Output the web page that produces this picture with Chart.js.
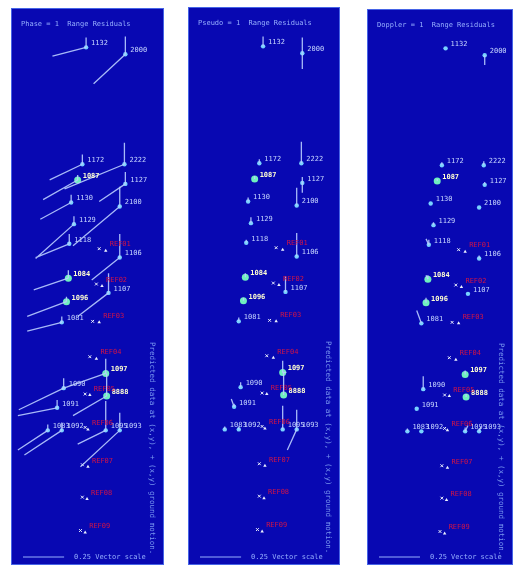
<!DOCTYPE html>
<html>
<head>
<meta charset="utf-8">
<script src="https://cdn.jsdelivr.net/npm/chart.js@4.4.1/dist/chart.umd.min.js"></script>
<style>
    body { margin: 0; background: #fff; width: 514px; height: 567px; position: relative; overflow: hidden; }
    canvas { position: absolute; }
</style>
</head>
<body>
<canvas id="panel1" width="153" height="557" style="left:11px;top:8px"></canvas>
<canvas id="panel2" width="152" height="558" style="left:188px;top:7px"></canvas>
<canvas id="panel3" width="146" height="556" style="left:367px;top:9px"></canvas>
<script>
// Panel titles
const panelTitles = ['Phase = 1  Range Residuals', 'Pseudo = 1  Range Residuals', 'Doppler = 1  Range Residuals'];
const noteText = 'Predicted data at (x,y), + (x,y) ground motion.';
const scaleText = '0.25 Vector scale';
const scaleLength = 44;

// Stations (map units, north measured downwards from the top edge)
const stationIds = ['1132', '2000', '1172', '2222', '1087', '1127', '1130', '2100', '1129', '1118', '1106', '1084',
    '1107', '1096', '1081', '1097', '1090', '8888', '1091', '1083', '1092', '1095', '1093'];
const stationEast = [75, 117, 71, 116, 66, 117, 59, 111, 62, 57, 111, 56, 99, 54, 49, 96, 51, 97, 44, 34, 49, 96, 111];
const stationNorth = [35, 42, 154, 154, 170, 174, 193, 197, 215, 235, 249, 270, 285, 294, 315, 367, 382, 390, 402, 425, 425, 425, 425];
const brightStations = ['1087', '1084', '1096', '1097', '8888'];

// Horizontal vectors (east, north) and vertical component, one set per panel
const vecEast1 = [-36, -34, -35, -64, -37, -28, -33, -50, -41, -36, -30, -37, -33, -42, -37, -45, -48, -36, -42, -32, -40, -30, -42];
const vecNorth1 = [9, 30, 16, 25, 20, 18, 17, 40, 35, 14, 23, 12, 24, 15, 9, 15, 22, 20, 8, 20, 25, 14, 37];
const vecUp1 = [10, 18, 10, 22, 5, 12, 8, 20, 8, 10, 24, 8, 20, 5, 6, 15, 10, 23, 8, 6, 8, 30, 18];

const vecEast2 = [0, 0, 0, 0, 0, 0, 0, 0, 0, 0, 0, 0, 0, 0, 0, 4, 0, 0, -3, 0, 0, 0, -10];
const vecNorth2 = [0, 16, 0, 0, 0, 10, 0, 0, 0, 0, 0, 0, 0, 0, 0, 0, 0, 0, -8, 0, 0, 0, 21];
const vecUp2 = [10, 16, 4, 22, 3, 6, 4, 18, 6, 3, 24, 4, 16, 3, 4, 12, 5, 23, 3, 3, 3, 24, 20];

const vecEast3 = [0, 0, 0, 0, 0, 0, 0, 0, 0, -3, 0, -2, 0, 0, -5, 0, 0, 0, 0, 0, 0, 3, 2];
const vecNorth3 = [0, 10, 0, 0, 0, 0, 0, 0, 0, -6, 0, -4, 0, 0, -13, 0, 0, 0, 0, 0, 0, -6, -5];
const vecUp3 = [0, 0, 3, 4, 2, 3, 0, 0, 3, 5, 3, 4, 0, 5, 0, 4, 13, 3, 0, 3, 0, 4, 3];

// Reference sites: observed (+) and predicted (triangle) positions
const siteNames = ['REF01', 'REF02', 'REF03', 'REF04', 'REF05', 'REF06', 'REF07', 'REF08', 'REF09'];
const obsEast = [89, 86, 82, 79, 74, 74, 71, 71, 69];
const obsNorth = [240, 276, 314, 350, 388, 422, 460, 493, 527];
const predEast = [96, 92, 89, 86, 79, 77, 77, 76, 74];
const predNorth = [242, 278, 315, 352, 389, 424, 462, 495, 529];

const panelVectors = [
    [vecEast1, vecNorth1, vecUp1],
    [vecEast2, vecNorth2, vecUp2],
    [vecEast3, vecNorth3, vecUp3]
];
const panelIds = ['panel1', 'panel2', 'panel3'];
const panelXMin = [0, 0, -4];

const BG = 'rgb(8, 8, 178)';
const MONO = '"DejaVu Sans Mono", monospace';

// Line segments separated by gaps
function horizontalSegments(de, dn) {
    const pts = [];
    stationEast.forEach((x, i) => {
        if (de[i] === 0 && dn[i] === 0) return;
        const y = stationNorth[i];
        pts.push({ x: x, y: y }, { x: x + de[i], y: y + dn[i] }, { x: x, y: null });
    });
    return pts;
}

function verticalSegments(du) {
    const pts = [];
    stationEast.forEach((x, i) => {
        if (du[i] === 0) return;
        const y = stationNorth[i];
        pts.push({ x: x, y: y }, { x: x, y: y - du[i] }, { x: x, y: null });
    });
    return pts;
}

const decorations = {
    id: 'decorations',
    beforeDraw(chart) {
        const ctx = chart.ctx;
        ctx.save();
        ctx.fillStyle = BG;
        ctx.fillRect(0, 0, chart.width, chart.height);
        ctx.strokeStyle = 'rgb(70, 100, 230)';
        ctx.lineWidth = 1;
        ctx.strokeRect(0.5, 0.5, chart.width - 1, chart.height - 1);
        ctx.restore();
    },
    afterDatasetsDraw(chart, args, opts) {
        const ctx = chart.ctx;
        const xs = chart.scales.x, ys = chart.scales.y;
        ctx.save();
        ctx.textBaseline = 'middle';

        // title
        ctx.font = '7px ' + MONO;
        ctx.fillStyle = 'rgb(150, 175, 255)';
        ctx.fillText(panelTitles[opts.panel], 10, 16);

        // station labels
        stationIds.forEach((id, i) => {
            const bright = brightStations.includes(id);
            ctx.font = (bright ? 'bold ' : '') + '7px ' + MONO;
            ctx.fillStyle = bright ? 'rgb(255, 255, 210)' : 'rgb(200, 215, 255)';
            ctx.fillText(id, xs.getPixelForValue(stationEast[i]) + 5, ys.getPixelForValue(stationNorth[i]) - 4);
        });

        // reference site labels
        ctx.font = '7px ' + MONO;
        ctx.fillStyle = 'rgb(210, 20, 70)';
        siteNames.forEach((name, i) => {
            ctx.fillText(name, xs.getPixelForValue(predEast[i]) + 4, ys.getPixelForValue(predNorth[i]) - 6);
        });

        // vertical note
        ctx.save();
        ctx.translate(chart.width - 12, 334);
        ctx.rotate(Math.PI / 2);
        ctx.font = '7.5px ' + MONO;
        ctx.fillStyle = 'rgb(120, 150, 240)';
        ctx.fillText(noteText, 0, 0);
        ctx.restore();

        // vector scale
        const y0 = chart.height - 8;
        const x0 = 12;
        const x1 = x0 + (xs.getPixelForValue(scaleLength) - xs.getPixelForValue(0));
        ctx.strokeStyle = 'rgb(150, 175, 255)';
        ctx.lineWidth = 1;
        ctx.beginPath();
        ctx.moveTo(x0, y0);
        ctx.lineTo(x1, y0);
        ctx.stroke();
        ctx.font = '7px ' + MONO;
        ctx.fillStyle = 'rgb(150, 175, 255)';
        ctx.fillText(scaleText, x1 + 10, y0);
        ctx.restore();
    }
};

function createPanel(index) {
    const canvas = document.getElementById(panelIds[index]);
    const [de, dn, du] = panelVectors[index];
    const lineColor = 'rgba(185, 205, 255, 0.9)';

    return new Chart(canvas.getContext('2d'), {
        type: 'scatter',
        data: {
            datasets: [
                {
                    data: horizontalSegments(de, dn),
                    showLine: true,
                    spanGaps: false,
                    borderColor: lineColor,
                    borderWidth: 1.3,
                    pointRadius: 0
                },
                {
                    data: verticalSegments(du),
                    showLine: true,
                    spanGaps: false,
                    borderColor: lineColor,
                    borderWidth: 1.3,
                    pointRadius: 0
                },
                {
                    data: stationEast.map((x, i) => ({ x: x, y: stationNorth[i] })),
                    pointRadius: stationIds.map(id => brightStations.includes(id) ? 3.5 : 2.2),
                    pointBackgroundColor: stationIds.map(id => brightStations.includes(id) ? 'rgb(110, 240, 190)' : 'rgb(120, 210, 255)'),
                    pointBorderWidth: 0
                },
                {
                    data: obsEast.map((x, i) => ({ x: x, y: obsNorth[i] })),
                    pointStyle: 'crossRot',
                    pointRadius: 2,
                    borderColor: 'rgb(235, 240, 255)',
                    pointBorderWidth: 1
                },
                {
                    data: predEast.map((x, i) => ({ x: x, y: predNorth[i] })),
                    pointStyle: 'triangle',
                    pointRadius: 2,
                    pointBackgroundColor: 'rgb(235, 240, 255)',
                    pointBorderWidth: 0
                }
            ]
        },
        options: {
            responsive: false,
            animation: false,
            devicePixelRatio: 1,
            layout: { padding: 0 },
            events: [],
            plugins: {
                legend: { display: false },
                tooltip: { enabled: false },
                decorations: { panel: index }
            },
            scales: {
                x: { type: 'linear', min: panelXMin[index], max: panelXMin[index] + canvas.width, display: false },
                y: { type: 'linear', min: 0, max: canvas.height, reverse: true, display: false }
            }
        },
        plugins: [decorations]
    });
}

[0, 1, 2].forEach(createPanel);
</script>
</body>
</html>
